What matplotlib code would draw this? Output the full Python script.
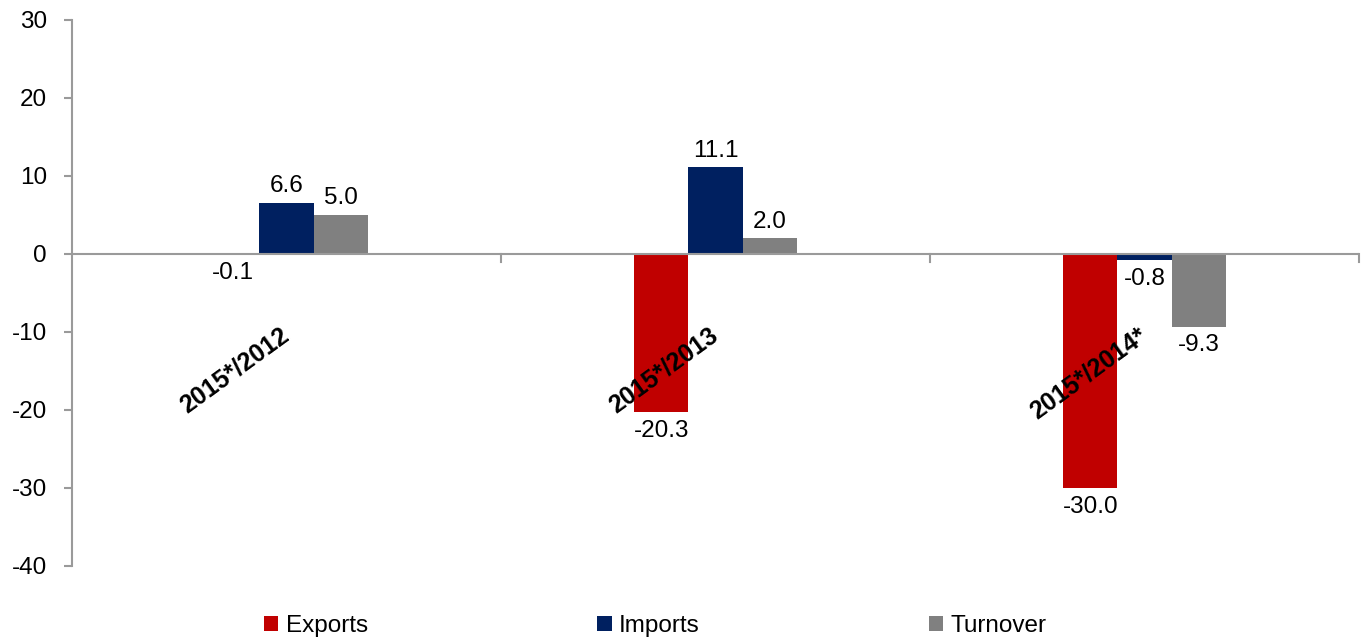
import matplotlib
matplotlib.use("Agg")
import matplotlib.pyplot as plt
import numpy as np

categories = ["2015*/2012", "2015*/2013", "2015*/2014*"]
series_names = ["Exports", "Imports", "Turnover"]
exports = [-0.1, -20.3, -30.0]
imports = [6.6, 11.1, -0.8]
turnover = [5.0, 2.0, -9.3]
colors = ["#C00000", "#002060", "#808080"]
yticks = [-40, -30, -20, -10, 0, 10, 20, 30]

plt.rcParams['font.family'] = ['Liberation Sans', 'DejaVu Sans']
FS = 17.5

fig = plt.figure(figsize=(13.67, 6.41), dpi=100)
ax = fig.add_axes([72/1367, 1-566/641, (1359-72)/1367, (566-20)/641])

x = np.arange(len(categories)) + 0.5
w = 0.126
axis_col = "#9A9A9A"
for i, (vals, name, c) in enumerate(zip([exports, imports, turnover], series_names, colors)):
    pos = x + (i - 1) * w
    ax.bar(pos, vals, width=w, color=c, label=name, zorder=2)
    for p, v in zip(pos, vals):
        if v >= 0:
            ax.annotate(f"{v:.1f}", (p, v), xytext=(0, 4), textcoords="offset points",
                        ha="center", va="bottom", fontsize=FS)
        else:
            ax.annotate(f"{v:.1f}", (p, v), xytext=(0, -5.5), textcoords="offset points",
                        ha="center", va="top", fontsize=FS)

ax.set_xlim(0, 3)
ax.set_ylim(-40, 30)
ax.set_yticks(yticks)
ax.set_yticklabels([str(t) for t in yticks], fontsize=FS)
ax.tick_params(axis="y", length=6, width=1.5, color=axis_col, pad=12)
ax.set_xticks([])
for s in ["top", "right", "bottom"]:
    ax.spines[s].set_visible(False)
ax.spines["left"].set_color(axis_col)
ax.spines["left"].set_linewidth(1.5)

# zero axis line with category boundary ticks
ax.axhline(0, color=axis_col, lw=1.5, zorder=3)
for b in [1, 2, 3]:
    ax.plot([b, b], [0, -1.0], color=axis_col, lw=1.5, clip_on=False, zorder=3)

# category labels
for xi, cat in zip(x, categories):
    ax.text(xi + 0.015, -8.85, cat, rotation=36, ha="right", va="top",
            fontsize=18, fontweight="bold", zorder=4)

fig.legend(loc="center", bbox_to_anchor=(0.4795, 1-626/641), ncol=3, frameon=False,
           fontsize=FS, handlelength=0.58, handleheight=0.58, handletextpad=0.3,
           columnspacing=9.45)

fig.savefig("out.png", dpi=100)
